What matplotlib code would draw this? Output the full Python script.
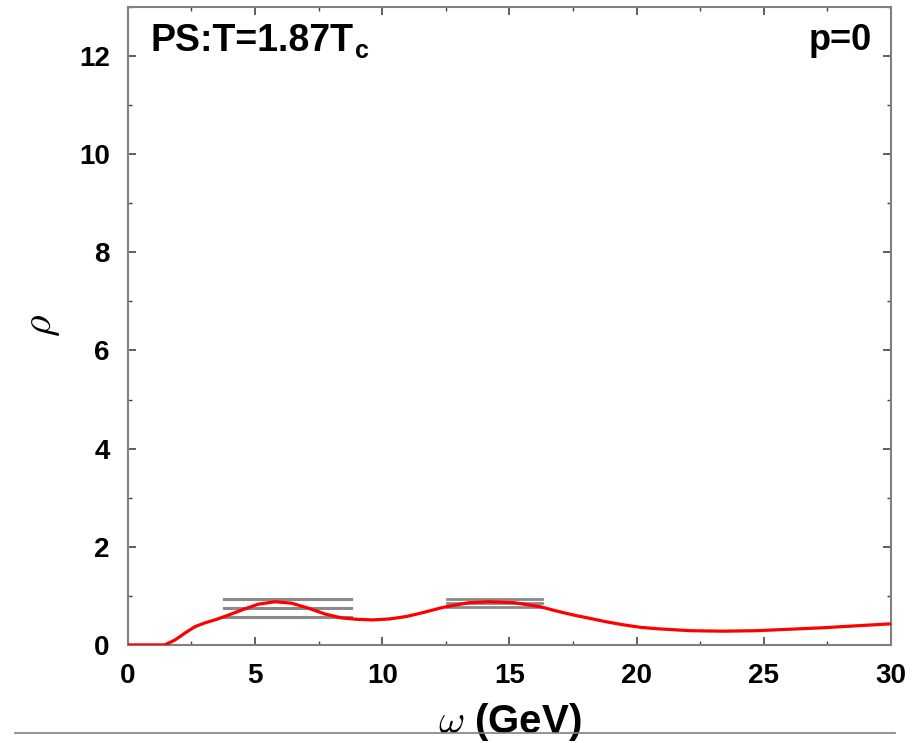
import numpy as np
import matplotlib
matplotlib.use("Agg")
import matplotlib.pyplot as plt
from matplotlib.lines import Line2D
from matplotlib.ticker import MultipleLocator

plt.rcParams['font.family'] = ['Liberation Sans', 'DejaVu Sans']
plt.rcParams['mathtext.fontset'] = 'cm'

# spectral function (red curve)
omega = [0, 1.45, 1.85, 2.24, 2.63, 3.03, 3.42, 3.81, 4.47, 5.12, 5.78, 6.44,
         7.09, 7.75, 8.40, 9.06, 9.65, 10.30, 10.96, 11.61, 12.27, 12.53, 13.4,
         14.2, 15.2, 16.2, 16.86, 17.51, 18.17, 18.82, 19.48, 20.13, 20.79,
         22.1, 23.4, 24.72, 26.03, 27.34, 28.65, 30.0]
rho = [0, 0, 0.10, 0.24, 0.37, 0.45, 0.51, 0.58, 0.71, 0.83, 0.88, 0.85,
       0.75, 0.63, 0.55, 0.52, 0.51, 0.53, 0.58, 0.66, 0.75, 0.78, 0.86,
       0.88, 0.86, 0.78, 0.69, 0.61, 0.54, 0.47, 0.41, 0.36, 0.33,
       0.29, 0.28, 0.29, 0.32, 0.35, 0.39, 0.43]

# grey error bands (x range, levels)
band1_x = [3.77, 8.77]
band1_y = [0.93, 0.75, 0.56]
band2_x = [12.53, 16.27]
band2_y = [0.94, 0.855, 0.77]

fig = plt.figure(figsize=(9.2, 7.43), dpi=100)
ax = fig.add_axes([0.139, 0.132, 0.8295, 0.8586])

for yv in band1_y:
    ax.plot(band1_x, [yv, yv], color="#8a8a8a", lw=2.2, zorder=2)
for yv in band2_y:
    ax.plot(band2_x, [yv, yv], color="#8a8a8a", lw=2.0, zorder=2)
ax.plot(omega, rho, color="red", lw=2.3, zorder=3)

ax.set_xlim(0, 30)
ax.set_ylim(0, 13)
ax.xaxis.set_major_locator(MultipleLocator(5))
ax.xaxis.set_minor_locator(MultipleLocator(2.5))
ax.yaxis.set_major_locator(MultipleLocator(2))
ax.yaxis.set_minor_locator(MultipleLocator(1))
ax.tick_params(which="both", direction="in", top=True, right=True, color="#444444")
ax.tick_params(which="major", length=6, width=1.2, labelsize=20, pad=13)
ax.tick_params(which="minor", length=3, width=1)
for lab in ax.get_xticklabels() + ax.get_yticklabels():
    lab.set_fontweight("bold")
for sp in ax.spines.values():
    sp.set_color("#808080")
    sp.set_linewidth(1.5)

ax.set_xlabel(r"$\omega$ (GeV)", fontsize=29, fontweight="bold", labelpad=9)
ax.set_ylabel(r"$\rho$", fontsize=30, labelpad=12)

t = ax.text(0.03, 0.975, "PS:T=1.87T", transform=ax.transAxes,
            fontsize=27, fontweight="bold", va="top", ha="left")
ax.annotate("c", xy=(1, 0), xycoords=t, xytext=(1, 1), textcoords="offset points",
            fontsize=18, fontweight="bold", va="baseline", ha="left")
ax.text(0.975, 0.975, "p=0", transform=ax.transAxes,
        fontsize=26, fontweight="bold", va="top", ha="right")

fig.add_artist(Line2D([0.016, 0.973], [1 - 733 / 743, 1 - 733 / 743],
                      transform=fig.transFigure, color="#808080", lw=1.2))

fig.savefig("out.png", dpi=100)
